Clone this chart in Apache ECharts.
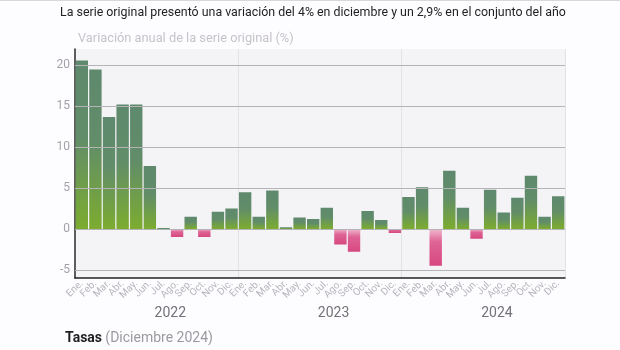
<!DOCTYPE html>
<html>
<head>
<meta charset="utf-8">
<script src="https://cdn.jsdelivr.net/npm/echarts@6/dist/echarts.min.js"></script>
<style>
html,body{margin:0;padding:0;background:#fdfcfe;}
#c{width:620px;height:350px;}
</style>
</head>
<body>
<div id="c"></div>
<script>
const months = ['Ene.','Feb.','Mar.','Abr.','May.','Jun.','Jul.','Ago.','Sep.','Oct.','Nov.','Dic.'];
const years = ['2022','2023','2024'];
const values2022 = [20.6, 19.5, 13.7, 15.2, 15.2, 7.7, 0.1, -1.0, 1.5, -1.0, 2.1, 2.5];
const values2023 = [4.5, 1.5, 4.7, 0.2, 1.4, 1.2, 2.6, -1.9, -2.8, 2.2, 1.1, -0.5];
const values2024 = [3.9, 5.1, -4.5, 7.1, 2.6, -1.2, 4.8, 2.0, 3.8, 6.5, 1.5, 4.0];
const yTicks = [-5, 0, 5, 10, 15, 20];

const titleText = 'La serie original presentó una variación del 4% en diciembre y un 2,9% en el conjunto del año';
const subtitleText = 'Variación anual de la serie original (%)';

const categories = [];
years.forEach(y => months.forEach(m => categories.push(m + ' ' + y)));
const allValues = values2022.concat(values2023, values2024);

const posColor = {type:'linear', x:0, y:0, x2:0, y2:1, colorStops:[
  {offset:0, color:'#5e896d'}, {offset:0.45, color:'#618d69'}, {offset:1, color:'#7cac2f'}]};
const negColor = {type:'linear', x:0, y:0, x2:0, y2:1, colorStops:[
  {offset:0, color:'#f0b9cd'}, {offset:0.35, color:'#de6495'}, {offset:1, color:'#d74780'}]};

const data = allValues.map(v => ({value:v, itemStyle:{color: v >= 0 ? posColor : negColor}}));

const chart = echarts.init(document.getElementById('c'), null, {renderer:'canvas'});
const FONT = 'Roboto';
const option = {
  backgroundColor:'#fdfcfe',
  animation:false,
  textStyle:{fontFamily:FONT},
  grid:{left:75, right:55, top:49, bottom:72, show:true, backgroundColor:'#f4f3f6', borderWidth:0},
  title:[
    {text:titleText, left:55, top:2, padding:5, textStyle:{fontFamily:FONT, fontSize:12.4, fontWeight:'normal', color:'#1f1f22'}},
    {text:subtitleText, left:73, top:27, padding:5, textStyle:{fontFamily:FONT, fontSize:12.8, fontWeight:'normal', color:'#c6c4ca'}}
  ],
  xAxis:{
    type:'category', data:categories,
    axisLine:{show:true, onZero:false, lineStyle:{color:'#222', width:1.5}},
    axisTick:{show:false},
    splitLine:{show:true, interval:function(i){return i>0 && i%12===0;}, lineStyle:{color:'#e2e1e5', width:1}},
    axisLabel:{interval:0, rotate:45, fontSize:10, color:'#b8b6bd', margin:4,
      formatter:function(v){return v.split(' ')[0];}}
  },
  yAxis:{
    type:'value', min:-6, max:22,
    axisLine:{show:true, lineStyle:{color:'#2a2a2a', width:1.5}},
    axisTick:{show:false},
    splitLine:{show:false},
    axisLabel:{fontSize:12, color:'#a3a1a8', margin:5,
      formatter:function(v){return yTicks.indexOf(v) >= 0 ? String(v) : '';}}
  },
  series:[{
    type:'bar', data:data, barCategoryGap:'9%',
    markLine:{silent:true, symbol:'none', label:{show:false},
      lineStyle:{color:'#b4b3b8', width:1, type:'solid'},
      data: yTicks.map(t => ({yAxis:t}))}
  }]
};
chart.setOption(option);

const graphics = [];
years.forEach((y, k) => {
  const a = chart.convertToPixel({xAxisIndex:0}, categories[k*12+6]);
  const b = chart.convertToPixel({xAxisIndex:0}, categories[k*12+7]);
  graphics.push({type:'text', x:(a+b)/2, y:313, style:{text:y, fontFamily:FONT, fontSize:14, fill:'#747278', align:'center', verticalAlign:'middle'}});
});
graphics.push({type:'text', left:65, top:331, style:{rich:{b:{fontFamily:FONT, fontSize:14, fontWeight:'bold', fill:'#1f1f22'}, n:{fontFamily:FONT, fontSize:14, fill:'#9c9aa0'}}, text:'{b|Tasas} {n|(Diciembre 2024)}'}});
graphics.push({type:'line', shape:{x1:0, y1:0.5, x2:620, y2:0.5}, style:{stroke:'#d8d7db', lineWidth:1}});
chart.setOption({graphic:graphics});
</script>
</body>
</html>
